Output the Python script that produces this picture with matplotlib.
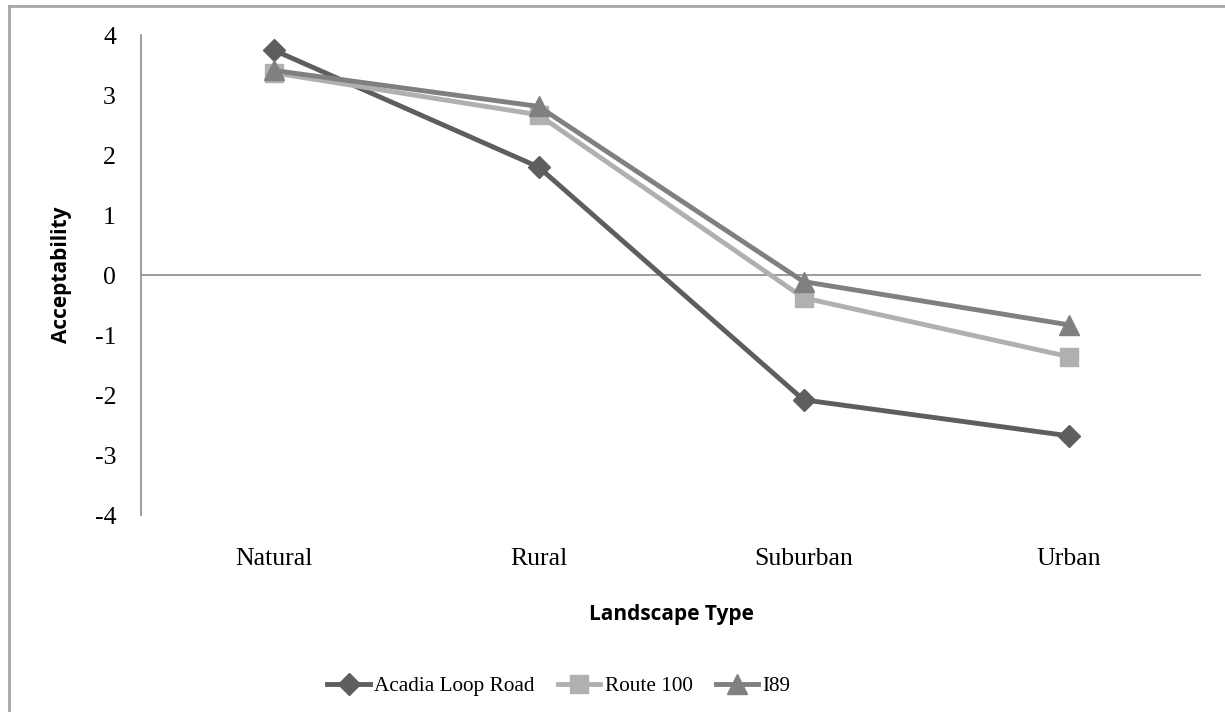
import matplotlib.pyplot as plt
from matplotlib.lines import Line2D

# Acceptability ratings by landscape type for three roads
landscapes = ["Natural", "Rural", "Suburban", "Urban"]
acadia = [3.75, 1.80, -2.08, -2.68]
route_100 = [3.37, 2.67, -0.38, -1.36]
i89 = [3.41, 2.81, -0.11, -0.83]
y_ticks = [4, 3, 2, 1, 0, -1, -2, -3, -4]

SERIF = "Liberation Serif"
SANS = "Open Sans"


def main():
  fig = plt.figure(figsize=(12.25, 7.12), dpi=100)
  ax = fig.add_axes([141 / 1225, 1 - 515 / 712, 1060 / 1225, 480 / 712])

  x = list(range(len(landscapes)))
  ax.plot(x, acadia, color="#5e5e5e", lw=3.5, marker="D", ms=11,
          label="Acadia Loop Road", zorder=3)
  ax.plot(x, route_100, color="#b0b0b0", lw=3.5, marker="s", ms=13,
          label="Route 100", zorder=3)
  ax.plot(x, i89, color="#808080", lw=3.5, marker="^", ms=14,
          label="I89", zorder=4)

  ax.set_xlim(-0.5, len(landscapes) - 0.5)
  ax.set_ylim(-4, 4)
  ax.set_yticks(y_ticks)
  ax.set_yticklabels([str(v) for v in y_ticks], fontfamily=SERIF, fontsize=18.5)
  ax.set_xticks(x)
  ax.set_xticklabels(landscapes, fontfamily=SERIF, fontsize=18.5)
  ax.tick_params(axis="y", length=0, pad=18)
  ax.tick_params(axis="x", length=0, pad=24)

  for side in ("top", "right", "bottom"):
    ax.spines[side].set_visible(False)
  ax.spines["left"].set_color("#8c8c8c")
  ax.spines["left"].set_linewidth(1.2)
  ax.axhline(0, color="#8c8c8c", lw=1.2, zorder=1)

  ax.set_ylabel("Acceptability", fontfamily=SANS, fontweight="bold",
                fontsize=15, labelpad=16)
  ax.set_xlabel("Landscape Type", fontfamily=SANS, fontweight="bold",
                fontsize=15, labelpad=24)

  fig.legend(loc="center", bbox_to_anchor=(559 / 1225, 1 - 686 / 712),
             ncol=3, frameon=False, prop={"family": SERIF, "size": 15.3},
             handlelength=2.0, handletextpad=0.2, columnspacing=1.1)

  # chart frame along the left and top edges
  border = "#a6a6a6"
  fig.add_artist(Line2D([9 / 1225, 9 / 1225], [0, 1 - 6 / 712],
                        transform=fig.transFigure, color=border, lw=2))
  fig.add_artist(Line2D([9 / 1225, 1], [1 - 6 / 712, 1 - 6 / 712],
                        transform=fig.transFigure, color=border, lw=2))

  fig.savefig("out.png", dpi=100)


if __name__ == "__main__":
  main()
